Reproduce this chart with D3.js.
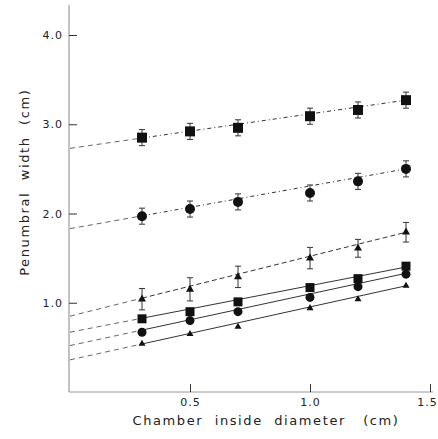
<!DOCTYPE html>
<html>
<head>
<meta charset="utf-8">
<script src="https://cdn.jsdelivr.net/npm/d3@7"></script>
<style>
  body { margin: 0; background: #fff; }
  text { font-family: "DejaVu Sans", sans-serif; fill: #222; }
</style>
</head>
<body>
<div id="chart"></div>
<script>
// chamber diameters (cm)
const diameters = [0.3, 0.5, 0.7, 1.0, 1.2, 1.4];

// penumbral widths, one array per series (top to bottom)
const sqTop   = [2.85, 2.92, 2.96, 3.09, 3.16, 3.27];
const cirTop  = [1.97, 2.05, 2.13, 2.23, 2.36, 2.50];
const triTop  = [1.04, 1.15, 1.29, 1.50, 1.61, 1.79];
const sqLow   = [0.82, 0.90, 1.01, 1.17, 1.27, 1.41];
const cirLow  = [0.67, 0.80, 0.90, 1.06, 1.18, 1.32];
const triLow  = [0.54, 0.65, 0.73, 0.94, 1.04, 1.19];

// error bar half-widths
const errTop = [0.09, 0.09, 0.09, 0.09, 0.09, 0.09];
const errTri = [0.12, 0.13, 0.12, 0.12, 0.1, 0.11];

// fit lines: value at 0 and at 1.4
const fitStart = [2.73, 1.83, 0.85, 0.67, 0.52, 0.36];
const fitEnd   = [3.27, 2.50, 1.79, 1.40, 1.33, 1.19];

const yTicks = [1.0, 2.0, 3.0, 4.0];
const xTicks = [0.5, 1.0, 1.5];

const series = [
  { vals: sqTop,  shape: "square",   size: 10, err: errTop, dash: "4,3,1,3" },
  { vals: cirTop, shape: "circle",   size: 10, err: errTop, dash: "4,3,1,3" },
  { vals: triTop, shape: "triangle", size: 8,  err: errTri, dash: "5,3" },
  { vals: sqLow,  shape: "square",   size: 9,  err: null,   dash: null },
  { vals: cirLow, shape: "circle",   size: 9,  err: null,   dash: null },
  { vals: triLow, shape: "triangle", size: 7,  err: null,   dash: null }
];

const margin = { top: 5, right: 5, bottom: 47, left: 69 },
      width = 438 - margin.left - margin.right,
      height = 439 - margin.top - margin.bottom;

const svg = d3.select("#chart")
  .append("svg")
  .attr("width", 438)
  .attr("height", 439)
  .append("g")
  .attr("transform", `translate(${margin.left},${margin.top})`);

const x = d3.scaleLinear().domain([0, 1.5]).range([1, 361]);
const y = d3.scaleLinear().domain([0, 4.0]).range([height, height - 357]);

// axes
svg.append("line")
  .attr("x1", 0).attr("x2", 0)
  .attr("y1", 0).attr("y2", height)
  .attr("stroke", "#999").attr("stroke-width", 1.2);
svg.append("line")
  .attr("x1", 0).attr("x2", x(1.5) + 3)
  .attr("y1", height).attr("y2", height)
  .attr("stroke", "#999").attr("stroke-width", 1.2);

const yAxis = svg.append("g")
  .call(d3.axisRight(y).tickValues(yTicks).tickSize(8).tickFormat(d3.format(".1f")));
yAxis.select(".domain").remove();
yAxis.selectAll("line").attr("stroke", "#333");
yAxis.selectAll("text")
  .attr("x", -6)
  .attr("text-anchor", "end")
  .style("font-size", "11px")
  .style("letter-spacing", "1px");

const xAxis = svg.append("g")
  .attr("transform", `translate(0,${height})`)
  .call(d3.axisTop(x).tickValues(xTicks).tickSize(8).tickFormat(d3.format(".1f")));
xAxis.select(".domain").remove();
xAxis.selectAll("line").attr("stroke", "#333");
xAxis.selectAll("text")
  .attr("y", 6)
  .attr("dy", "0.71em")
  .attr("x", d => d === 1.5 ? -3 : 0)
  .style("font-size", "11px")
  .style("letter-spacing", "1px");

svg.append("text")
  .attr("x", 197)
  .attr("y", height + 33)
  .attr("text-anchor", "middle")
  .style("font-size", "13px")
  .style("letter-spacing", "1.6px")
  .attr("xml:space", "preserve")
  .text("Chamber  inside  diameter   (cm)");

svg.append("text")
  .attr("transform", "rotate(-90)")
  .attr("x", -y(2.35))
  .attr("y", -40)
  .attr("text-anchor", "middle")
  .style("font-size", "13px")
  .style("letter-spacing", "1.6px")
  .attr("xml:space", "preserve")
  .text("Penumbral  width  (cm)");

// fit lines
series.forEach((s, i) => {
  // extrapolated part to the axis
  const v03 = fitStart[i] + (fitEnd[i] - fitStart[i]) * (0.3 / 1.4);
  svg.append("line")
    .attr("x1", x(0)).attr("y1", y(fitStart[i]))
    .attr("x2", x(0.3)).attr("y2", y(v03))
    .attr("stroke", "#555")
    .attr("stroke-width", 0.9)
    .attr("stroke-dasharray", "5,4");
  svg.append("line")
    .attr("x1", x(0.3)).attr("y1", y(v03))
    .attr("x2", x(1.4)).attr("y2", y(fitEnd[i]))
    .attr("stroke", "#333")
    .attr("stroke-width", 1)
    .attr("stroke-dasharray", s.dash);
});

// error bars
series.forEach(s => {
  if (!s.err) return;
  s.vals.forEach((v, j) => {
    const cx = x(diameters[j]);
    const e = s.err[j];
    svg.append("line")
      .attr("x1", cx).attr("x2", cx)
      .attr("y1", y(v - e)).attr("y2", y(v + e))
      .attr("stroke", "#333").attr("stroke-width", 1);
    [v - e, v + e].forEach(w => {
      svg.append("line")
        .attr("x1", cx - 3).attr("x2", cx + 3)
        .attr("y1", y(w)).attr("y2", y(w))
        .attr("stroke", "#333").attr("stroke-width", 1);
    });
  });
});

// markers
const symType = { square: d3.symbolSquare, circle: d3.symbolCircle, triangle: d3.symbolTriangle };
series.forEach(s => {
  const area = s.shape === "circle" ? Math.PI * (s.size / 2) ** 2
             : s.shape === "square" ? s.size * s.size
             : s.size * s.size * Math.sqrt(3) / 4;
  const sym = d3.symbol().type(symType[s.shape]).size(area);
  svg.selectAll(null)
    .data(s.vals)
    .enter()
    .append("path")
    .attr("d", sym)
    .attr("transform", (d, j) => `translate(${x(diameters[j])},${y(d)})`)
    .attr("fill", "#111");
});
</script>
</body>
</html>
